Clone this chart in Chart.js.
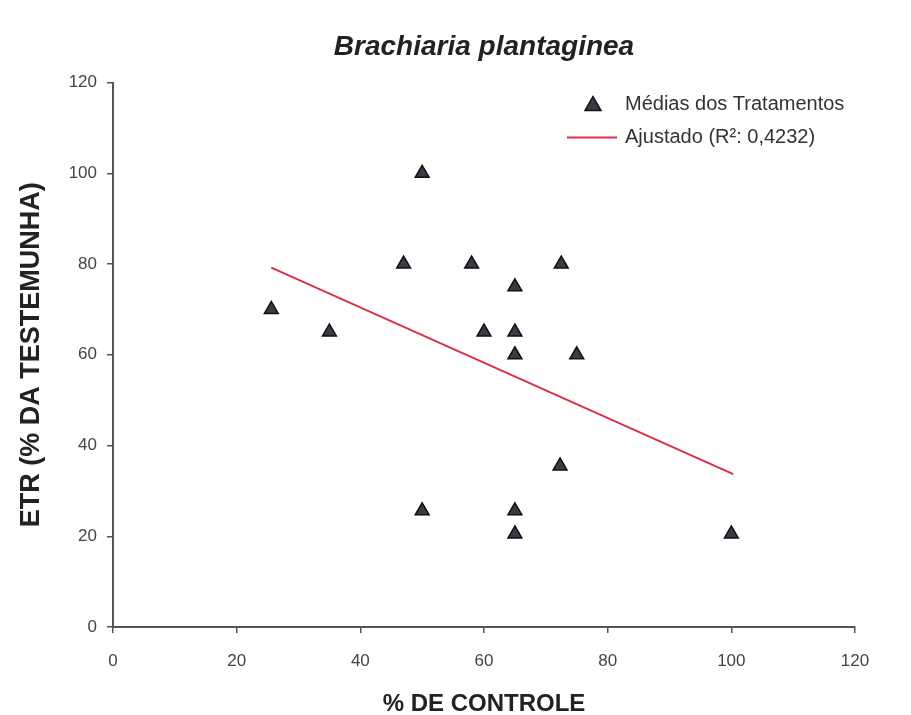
<!DOCTYPE html>
<html>
<head>
<meta charset="utf-8">
<script src="https://cdn.jsdelivr.net/npm/chart.js@4/dist/chart.umd.min.js"></script>
<style>
html,body{margin:0;padding:0;background:#fff;}
#wrap{width:911px;height:715px;position:relative;}
</style>
</head>
<body>
<div id="wrap"><canvas id="c" width="911" height="715"></canvas></div>
<script>
const chartTitle = 'Brachiaria plantaginea';
const xAxisTitle = '% DE CONTROLE';
const yAxisTitle = 'ETR (% DA TESTEMUNHA)';
const pointsLabel = 'Médias dos Tratamentos';
const fitLabel = 'Ajustado (R²: 0,4232)';
const xValues = [25.6, 35, 50, 47, 58, 72.5, 65, 60, 65, 65, 75, 72.3, 50, 65, 65, 100];
const yValues = [70, 65, 100, 80, 80, 80, 75, 65, 65, 60, 60, 35.5, 25.6, 25.6, 20.5, 20.5];
const fitX = [25.6, 100.3];
const fitY = [79.2, 33.7];
const xTicks = [0, 20, 40, 60, 80, 100, 120];
const yTicks = [0, 20, 40, 60, 80, 100, 120];

const FONT = "'Liberation Sans', Arial, sans-serif";
const pointFill = '#3b3b48';
const lineColor = '#dc2f45';

const legendPlugin = {
  id: 'customLegend',
  afterDraw(chart) {
    const ctx = chart.ctx;
    const a = chart.chartArea;
    ctx.save();
    const tx = a.right - 262, ty = a.top + 22;
    ctx.beginPath();
    ctx.moveTo(tx, ty - 8);
    ctx.lineTo(tx + 8, ty + 6);
    ctx.lineTo(tx - 8, ty + 6);
    ctx.closePath();
    ctx.fillStyle = pointFill;
    ctx.fill();
    ctx.lineWidth = 1.5;
    ctx.strokeStyle = '#111';
    ctx.stroke();
    ctx.font = '20px ' + FONT;
    ctx.fillStyle = '#333';
    ctx.textBaseline = 'middle';
    ctx.textAlign = 'left';
    ctx.fillText(pointsLabel, a.right - 230, ty);
    const ly = a.top + 55;
    ctx.beginPath();
    ctx.moveTo(a.right - 288, ly);
    ctx.lineTo(a.right - 238, ly);
    ctx.strokeStyle = lineColor;
    ctx.lineWidth = 2;
    ctx.stroke();
    ctx.fillText(fitLabel, a.right - 230, ly);
    ctx.restore();
  }
};

new Chart(document.getElementById('c'), {
  type: 'scatter',
  data: {
    datasets: [
      {
        label: pointsLabel,
        data: xValues.map((x, i) => ({x: x, y: yValues[i]})),
        pointStyle: 'triangle',
        pointRadius: 8,
        pointHoverRadius: 8,
        backgroundColor: pointFill,
        borderColor: '#111',
        borderWidth: 1.5,
        showLine: false,
        order: 1
      },
      {
        label: fitLabel,
        type: 'line',
        data: fitX.map((x, i) => ({x: x, y: fitY[i]})),
        borderColor: lineColor,
        borderWidth: 2,
        pointRadius: 0,
        fill: false,
        order: 2
      }
    ]
  },
  options: {
    responsive: false,
    animation: false,
    layout: {padding: {top: 22, right: 56, bottom: 0, left: 11}},
    plugins: {
      legend: {display: false},
      tooltip: {enabled: false},
      title: {
        display: true,
        fullSize: false,
        text: chartTitle,
        color: '#222',
        font: {family: FONT, size: 28, weight: 'bold', style: 'italic'},
        padding: {top: 8, bottom: 19}
      }
    },
    scales: {
      x: {
        type: 'linear',
        min: 0, max: 120,
        afterBuildTicks: (s) => { s.ticks = xTicks.map(v => ({value: v})); },
        afterFit: (s) => { s.height = 88; },
        border: {display: true, color: '#555', width: 2},
        grid: {display: true, drawOnChartArea: false, drawTicks: true, tickLength: 6, color: '#555', lineWidth: 1.5},
        ticks: {color: '#444', font: {family: FONT, size: 17}, padding: 18},
        title: {display: true, text: xAxisTitle, color: '#222', font: {family: FONT, size: 24, weight: 'bold'}, padding: {top: 10, bottom: -4}}
      },
      y: {
        type: 'linear',
        min: 0, max: 120,
        afterBuildTicks: (s) => { s.ticks = yTicks.map(v => ({value: v})); },
        afterFit: (s) => { s.width = 102; },
        border: {display: true, color: '#555', width: 2},
        grid: {display: true, drawOnChartArea: false, drawTicks: true, tickLength: 6, color: '#555', lineWidth: 1.5},
        ticks: {color: '#444', font: {family: FONT, size: 17}, padding: 10},
        title: {display: true, text: yAxisTitle, color: '#222', font: {family: FONT, size: 27, weight: 'bold'}, padding: {top: 4, bottom: 10}}
      }
    }
  },
  plugins: [legendPlugin]
});
</script>
</body>
</html>
